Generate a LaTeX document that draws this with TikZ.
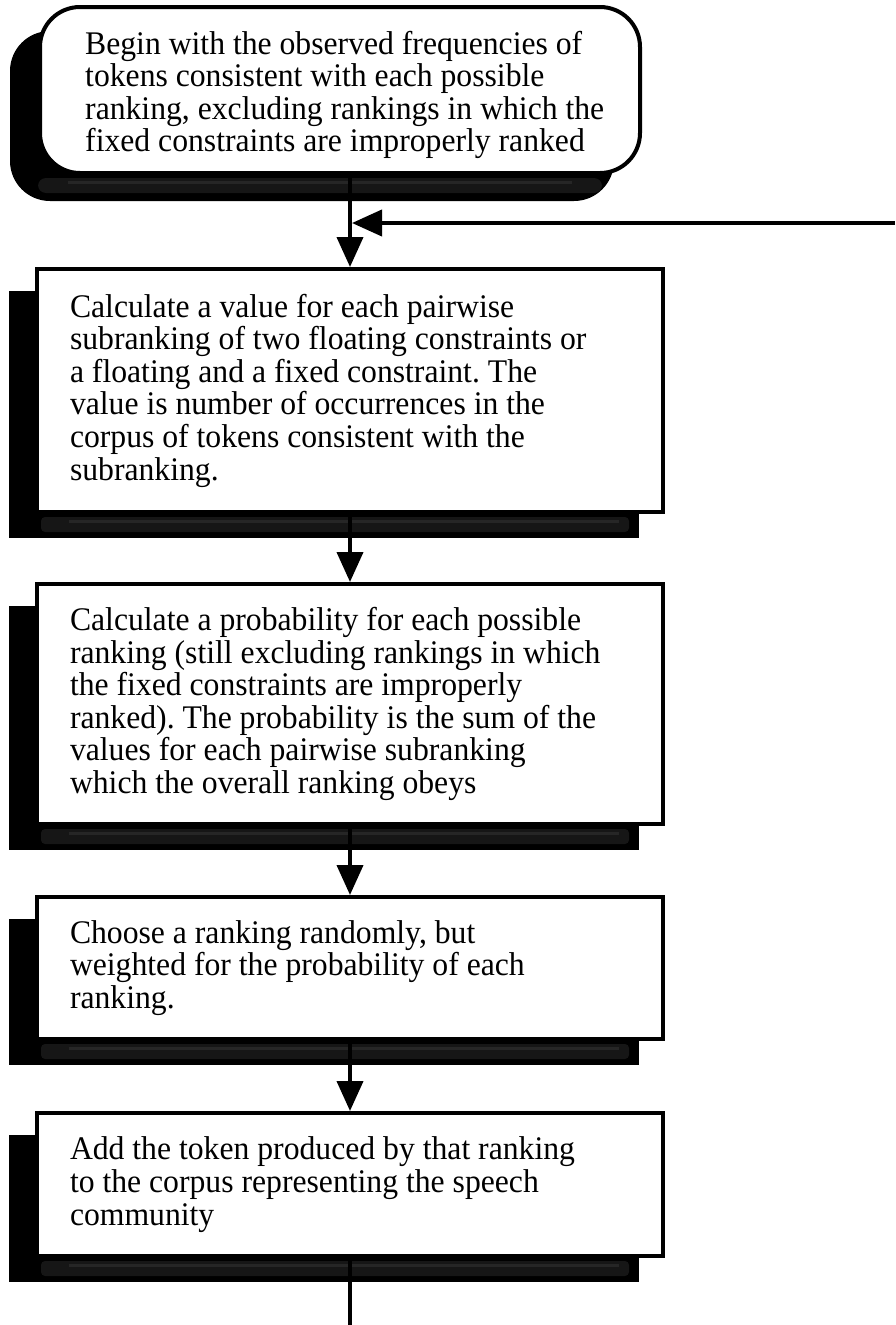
\documentclass[tikz,border=0pt]{standalone}
\usepackage{fontspec}
\setmainfont{Liberation Serif}[FakeStretch=0.96]
\frenchspacing
\usetikzlibrary{arrows.meta,calc,backgrounds}
\definecolor{bandA}{HTML}{161616}
\definecolor{bandB}{HTML}{262626}
\begin{document}
\begin{tikzpicture}[x=1pt,y=-1pt,
  txt/.style={font=\fontsize{33}{32.6}\selectfont},
  stepbox/.style={txt,draw=black,line width=4pt,fill=white,rectangle,anchor=north west,
    text width=560pt,inner xsep=33pt,inner ysep=0pt,align=flush left},
  startbox/.style={draw=black,line width=4pt,fill=white,rounded corners=40pt,anchor=north west,
    minimum width=600pt,minimum height=166pt},
  conn/.style={line width=4pt,draw=black},
  tip/.style={-{Triangle[length=30pt,width=26pt]}},
]
\useasboundingbox (0,0) rectangle (895,1325);

\node[startbox] (b1) at (38,5) {};
\node[txt,align=left,anchor=west,inner sep=0pt] (t1) at ($(b1.west)+(47,5)$) {Begin with the observed frequencies of\\tokens consistent with each possible\\ranking, excluding rankings in which the\\fixed constraints are improperly ranked};
\node[stepbox,minimum height=243pt] (b2) at (35,267) {Calculate a value for each pairwise\\subranking of two floating constraints or\\a floating and a fixed constraint. The\\value is number of occurrences in the\\corpus of tokens consistent with the\\subranking.};
\node[stepbox,minimum height=240pt] (b3) at (35,582) {Calculate a probability for each possible\\ranking (still excluding rankings in which\\the fixed constraints are improperly\\ranked). The probability is the sum of the\\values for each pairwise subranking\\which the overall ranking obeys};
\node[stepbox,minimum height=142pt] (b4) at (35,895) {Choose a ranking randomly, but\\weighted for the probability of each\\ranking.};
\node[stepbox,minimum height=143pt] (b5) at (35,1111) {Add the token produced by that ranking\\to the corpus representing the speech\\community};

\begin{scope}[on background layer]
  \fill[black,rounded corners=40pt] ($(b1.north west)+(-28,26)$) rectangle ($(b1.south east)+(-28,26)$);
  \fill[bandA,rounded corners=8pt] ($(b1.south west)+(0,3)$) rectangle ($(b1.south east)+(-40,18)$);
  \fill[bandB] ($(b1.south west)+(30,6)$) rectangle ($(b1.south east)+(-70,9)$);
  \foreach \n in {b2,b3,b4,b5}{
    \fill[black] ($(\n.north west)+(-26,24)$) rectangle ($(\n.south east)+(-26,24)$);
    \fill[bandA,rounded corners=4pt] ($(\n.south west)+(6,3)$) rectangle ($(\n.south east)+(-36,18)$);
    \fill[bandB] ($(\n.south west)+(34,6)$) rectangle ($(\n.south east)+(-46,9)$);
  }
\end{scope}

\coordinate (fb) at (895,223);
\coordinate (end) at (350,1325);
\draw[conn,tip] (b2.north |- b1.south) -- (b2.north);
\draw[conn,tip,shorten >=2pt] (fb) -- (fb -| b2.north);
\draw[conn,tip] (b2.south) -- (b3.north);
\draw[conn,tip] (b3.south) -- (b4.north);
\draw[conn,tip] (b4.south) -- (b5.north);
\draw[conn] (b5.south) -- (b5.south |- end);
\end{tikzpicture}
\end{document}
